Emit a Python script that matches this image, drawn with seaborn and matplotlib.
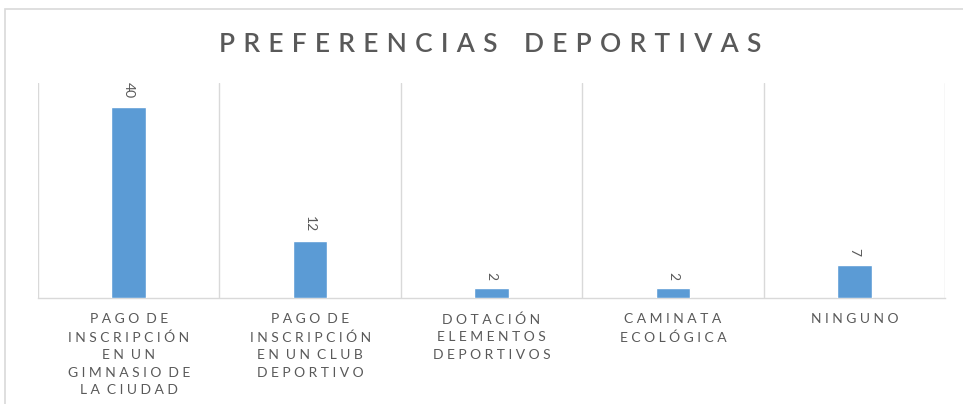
import matplotlib
matplotlib.use("Agg")
import matplotlib.pyplot as plt
import seaborn as sns
import pandas as pd
from matplotlib.patches import Rectangle

# --- Data ---
categories = [
    "PAGO DE INSCRIPCIÓN EN UN GIMNASIO DE LA CIUDAD",
    "PAGO DE INSCRIPCIÓN EN UN CLUB DEPORTIVO",
    "DOTACIÓN ELEMENTOS DEPORTIVOS",
    "CAMINATA ECOLÓGICA",
    "NINGUNO",
]
tick_labels = [
    "PAGO DE\nINSCRIPCIÓN\nEN UN\nGIMNASIO DE\nLA CIUDAD",
    "PAGO DE\nINSCRIPCIÓN\nEN UN CLUB\nDEPORTIVO",
    "DOTACIÓN\nELEMENTOS\nDEPORTIVOS",
    "CAMINATA\nECOLÓGICA",
    "NINGUNO",
]
values = [40, 12, 2, 2, 7]
title = "PREFERENCIAS DEPORTIVAS"

TEXT = "#595959"
GRID = "#d9d9d9"
BAR = "#5b9bd5"


def spaced(s, gap=" ", word_gap="  "):
    # imitate the wide letter spacing of the original
    return "\n".join(word_gap.join(gap.join(w) for w in line.split(" "))
                     for line in s.split("\n"))


df = pd.DataFrame({"cat": categories, "val": values})

sns.set_theme(style="white")
plt.rcParams["font.family"] = ["Lato", "DejaVu Sans"]

fig = plt.figure(figsize=(9.63, 4.04), dpi=100)
ax = fig.add_axes([38 / 963, 106 / 404, (945 - 38) / 963, 215 / 404])

# outer chart border (cut off at right and bottom like the screenshot)
fig.patches.append(Rectangle((5 / 963, -0.1), 1.2, (404 - 9) / 404 + 0.1,
                             transform=fig.transFigure, fill=False,
                             edgecolor=GRID, linewidth=1.2, zorder=0))

sns.barplot(data=df, x="cat", y="val", color=BAR, width=0.19,
            saturation=1, ax=ax, zorder=3)

ax.set_ylim(0, 45)
ax.set_xlim(-0.5, len(categories) - 0.5)
ax.set_yticks([])
ax.set_xlabel("")
ax.set_ylabel("")

for b in [i - 0.5 for i in range(len(categories) + 1)]:
    ax.axvline(b, color=GRID, linewidth=1, zorder=1)

for s in ["top", "left", "right"]:
    ax.spines[s].set_visible(False)
ax.spines["bottom"].set_color(GRID)
ax.spines["bottom"].set_linewidth(1)

ax.set_xticks(range(len(categories)))
ax.set_xticklabels([spaced(t) for t in tick_labels], color=TEXT,
                   fontsize=10, linespacing=1.55, va="top")
ax.tick_params(axis="x", length=0, pad=11)

for i, v in enumerate(values):
    ax.annotate(str(v), (i, v), xytext=(0, 6), textcoords="offset points",
                rotation=-90, ha="center", va="bottom", color=TEXT, fontsize=10)

fig.text(490 / 963, 1 - 44 / 404, spaced(title, gap=" \u200a", word_gap="    "),
         ha="center", va="center", color=TEXT, fontsize=19, fontweight="semibold")

fig.savefig("out.png", dpi=100)
